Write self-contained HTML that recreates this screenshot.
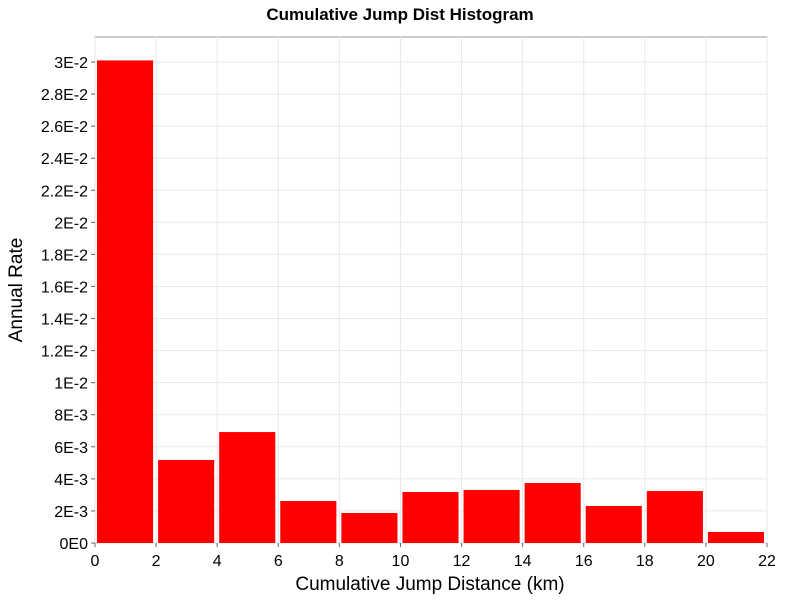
<!DOCTYPE html>
<html><head><meta charset="utf-8"><style>
body{margin:0;background:#fff;}
svg{display:block;font-family:"Liberation Sans","DejaVu Sans",sans-serif;}
</style></head><body>
<svg id="chart" width="800" height="600">
<text x="400" y="20" text-anchor="middle" font-size="17" font-weight="bold">Cumulative Jump Dist Histogram</text>
<rect x="95" y="37" width="672" height="506" fill="#fff" stroke="#999"/>
<g id="grid"></g><g id="bars"></g><g id="axes"></g>
<text x="430" y="590" text-anchor="middle" font-size="19">Cumulative Jump Distance (km)</text>
<text transform="translate(22,290) rotate(-90)" text-anchor="middle" font-size="19">Annual Rate</text>
</svg>
<script>
const binStarts=[0,2,4,6,8,10,12,14,16,18,20];
const binWidth=2;
const rates=[0.0301,0.00518,0.00692,0.00262,0.00187,0.00318,0.00331,0.00374,0.00231,0.00324,0.00069];
const xTicks=[0,2,4,6,8,10,12,14,16,18,20,22];
const yTicks=[0,0.002,0.004,0.006,0.008,0.01,0.012,0.014,0.016,0.018,0.02,0.022,0.024,0.026,0.028,0.03];
const yLabels=["0E0","2E-3","4E-3","6E-3","8E-3","1E-2","1.2E-2","1.4E-2","1.6E-2","1.8E-2","2E-2","2.2E-2","2.4E-2","2.6E-2","2.8E-2","3E-2"];
const NS="http://www.w3.org/2000/svg";
const X=v=>95+v*(672/22);
const Y=v=>543-v*(481/0.03);
function mk(t,a,p){const e=document.createElementNS(NS,t);for(const k in a)e.setAttribute(k,a[k]);p.appendChild(e);return e;}
const grid=document.getElementById('grid'),bars=document.getElementById('bars'),axes=document.getElementById('axes');
xTicks.forEach(t=>{
 const l=mk('line',{x1:X(t),x2:X(t),y1:37,y2:543,stroke:'#e8e8e8'},grid);
 
 
 const tk=mk('line',{x1:X(t),x2:X(t),y1:543,y2:547,stroke:'#666'},axes);
 
 
 const tx=mk('text',{x:X(t),y:566,'text-anchor':'middle','font-size':16},axes);
 tx.textContent=t;
 
 
});
yTicks.forEach((t,i)=>{
 const l=mk('line',{x1:95,x2:767,y1:Y(t),y2:Y(t),stroke:'#e8e8e8'},grid);
 
 
 const tk=mk('line',{x1:91,x2:95,y1:Y(t),y2:Y(t),stroke:'#666'},axes);
 
 
 const tx=mk('text',{x:88,y:Y(t)+6,'text-anchor':'end','font-size':16},axes);
 tx.textContent=yLabels[i];
 
 
});
binStarts.forEach((s,i)=>{
 const x0=X(s)+2,x1=X(s+binWidth)-3;
 const r=mk('rect',{x:x0,y:Y(rates[i]),width:x1-x0,height:543-Y(rates[i]),fill:'#ff0000'},bars);
 
 
});
</script>
</body></html>
